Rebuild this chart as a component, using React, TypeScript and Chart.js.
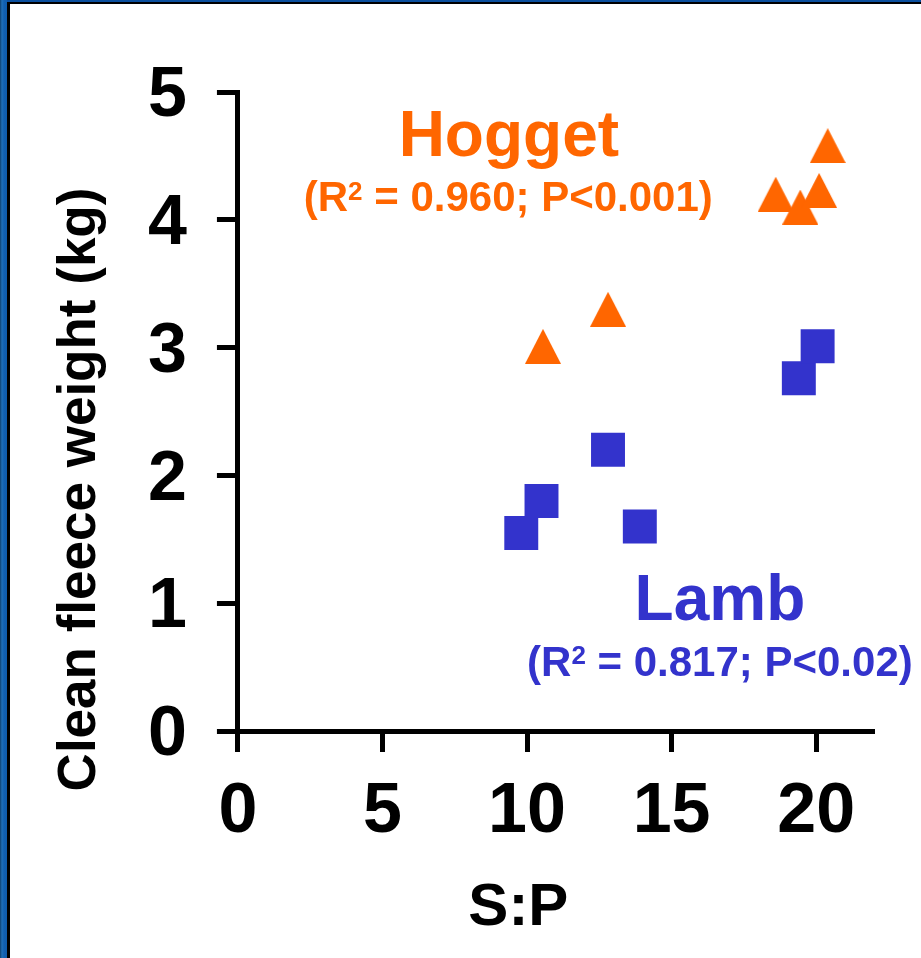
import React, { useEffect, useRef } from "react";
import { Chart, registerables } from "chart.js";

Chart.register(...registerables);

// ---- data ----
const lambSP = [9.8, 10.5, 12.8, 13.9, 19.4, 20.05];
const lambWeight = [1.55, 1.8, 2.2, 1.6, 2.76, 3.01];
const hoggetSP = [10.55, 12.8, 18.6, 19.45, 20.1, 20.4];
const hoggetWeight = [3.01, 3.3, 4.2, 4.1, 4.23, 4.58];
const xTicks = [0, 5, 10, 15, 20];
const yTicks = [0, 1, 2, 3, 4, 5];

const xTitle = "S:P";
const yTitle = "Clean fleece weight (kg)";
const hoggetLabel = "Hogget";
const hoggetStats = ["(R", "2", " = 0.960; P<0.001)"];
const lambLabel = "Lamb";
const lambStats = ["(R", "2", " = 0.817; P<0.02)"];

const ORANGE = "#FF6600";
const BLUE = "#3333CC";
const FAMILY = "'Liberation Sans', Arial, Helvetica, sans-serif";

function makeTriangle(w: number, h: number, color: string): HTMLCanvasElement {
  const c = document.createElement("canvas");
  c.width = w;
  c.height = h;
  const ctx = c.getContext("2d")!;
  ctx.fillStyle = color;
  ctx.beginPath();
  ctx.moveTo(w / 2, 0);
  ctx.lineTo(w, h);
  ctx.lineTo(0, h);
  ctx.closePath();
  ctx.fill();
  return c;
}

function drawStats(ctx: CanvasRenderingContext2D, parts: string[], cx: number, baseline: number) {
  const main = `bold 42px ${FAMILY}`;
  const sup = `bold 26px ${FAMILY}`;
  ctx.font = main;
  const w0 = ctx.measureText(parts[0]).width;
  const w2 = ctx.measureText(parts[2]).width;
  ctx.font = sup;
  const w1 = ctx.measureText(parts[1]).width;
  const total = w0 + w1 + w2;
  let x = cx - total / 2;
  ctx.textAlign = "left";
  ctx.font = main;
  ctx.fillText(parts[0], x, baseline);
  x += w0;
  ctx.font = sup;
  ctx.fillText(parts[1], x, baseline - 11.5);
  x += w1;
  ctx.font = main;
  ctx.fillText(parts[2], x, baseline);
}

const annotationPlugin = {
  id: "annotations",
  afterDraw(chart: any) {
    const { ctx, scales } = chart;
    const xs = scales.x;
    const ys = scales.y;
    ctx.save();
    ctx.textAlign = "center";
    ctx.textBaseline = "alphabetic";
    // Hogget
    ctx.fillStyle = ORANGE;
    ctx.font = `bold 64px ${FAMILY}`;
    ctx.fillText(hoggetLabel, xs.getPixelForValue(9.37), ys.getPixelForValue(4.5));
    drawStats(ctx, hoggetStats, xs.getPixelForValue(9.35), ys.getPixelForValue(4.065));
    // Lamb
    ctx.fillStyle = BLUE;
    ctx.textAlign = "center";
    ctx.font = `bold 64px ${FAMILY}`;
    ctx.fillText(lambLabel, xs.getPixelForValue(16.67), ys.getPixelForValue(0.87));
    drawStats(ctx, lambStats, xs.getPixelForValue(16.67), ys.getPixelForValue(0.434));
    // X axis title
    ctx.fillStyle = "#000000";
    ctx.textAlign = "center";
    ctx.textBaseline = "middle";
    ctx.font = `bold 60px ${FAMILY}`;
    ctx.fillText(xTitle, xs.getPixelForValue(9.7), ys.bottom + 177);
    // Y axis title
    ctx.font = `bold 53px ${FAMILY}`;
    ctx.translate(80, (ys.top + ys.bottom) / 2 + 78);
    ctx.rotate(-Math.PI / 2);
    ctx.fillText(yTitle, 0, 0);
    ctx.restore();
  },
};

export default function App() {
  const ref = useRef<HTMLCanvasElement>(null);

  useEffect(() => {
    if (!ref.current) return;
    const tri = makeTriangle(36, 35, ORANGE);
    const chart = new Chart(ref.current, {
      type: "scatter",
      data: {
        datasets: [
          {
            label: "Hogget",
            data: hoggetSP.map((x, i) => ({ x, y: hoggetWeight[i] })),
            pointStyle: tri as any,
            backgroundColor: ORANGE,
            borderWidth: 0,
          },
          {
            label: "Lamb",
            data: lambSP.map((x, i) => ({ x, y: lambWeight[i] })),
            pointStyle: "rect",
            pointRadius: 24,
            pointHoverRadius: 24,
            backgroundColor: BLUE,
            borderColor: BLUE,
            borderWidth: 0,
          },
        ],
      },
      options: {
        responsive: false,
        animation: false,
        events: [],
        layout: { padding: { left: 118, right: 47, top: 92, bottom: 84 } },
        plugins: {
          legend: { display: false },
          tooltip: { enabled: false },
        },
        scales: {
          x: {
            type: "linear",
            position: "bottom",
            min: 0,
            max: 22,
            afterBuildTicks: (axis: any) => {
              axis.ticks = xTicks.map((v) => ({ value: v }));
            },
            ticks: {
              stepSize: 5,
              includeBounds: false,
              color: "#000000",
              padding: 19,
              font: { family: FAMILY, size: 70, weight: "bold" },
            },
            grid: {
              drawOnChartArea: false,
              drawTicks: true,
              tickLength: 21,
              tickWidth: 5,
              color: "#000000",
            },
            border: { display: true, width: 5, color: "#000000" },
            title: { display: false },
          },
          y: {
            type: "linear",
            min: 0,
            max: 5,
            afterBuildTicks: (axis: any) => {
              axis.ticks = yTicks.map((v) => ({ value: v }));
            },
            ticks: {
              stepSize: 1,
              includeBounds: false,
              color: "#000000",
              padding: 30,
              labelOffset: 5,
              font: { family: FAMILY, size: 70, weight: "bold" },
            },
            grid: {
              drawOnChartArea: false,
              drawTicks: true,
              tickLength: 21,
              tickWidth: 5,
              color: "#000000",
            },
            border: { display: true, width: 5, color: "#000000" },
            title: { display: false },
          },
        },
      },
      plugins: [annotationPlugin],
    });
    return () => chart.destroy();
  }, []);

  return (
    <div
      style={{
        position: "fixed",
        left: 0,
        top: 0,
        width: 921,
        height: 958,
        background: "#ffffff",
        overflow: "hidden",
      }}
    >
      <canvas
        ref={ref}
        width={921}
        height={958}
        style={{ position: "absolute", left: 0, top: 0, width: 921, height: 958 }}
      />
      <div
        style={{
          position: "absolute",
          left: 0,
          top: 0,
          width: 921,
          height: 2,
          background: "#0B4F9E",
        }}
      />
      <div
        style={{
          position: "absolute",
          left: 0,
          top: 2,
          width: 921,
          height: 2,
          background: "#000000",
        }}
      />
      <div
        style={{
          position: "absolute",
          left: 0,
          top: 0,
          width: 7,
          height: 958,
          background:
            "linear-gradient(90deg, #0E3F6E 0px, #1F6FB8 2px, #115FB0 4px, #0F5CAD 7px)",
        }}
      />
      <div
        style={{
          position: "absolute",
          left: 7,
          top: 2,
          width: 3,
          height: 956,
          background: "#000000",
        }}
      />
    </div>
  );
}
